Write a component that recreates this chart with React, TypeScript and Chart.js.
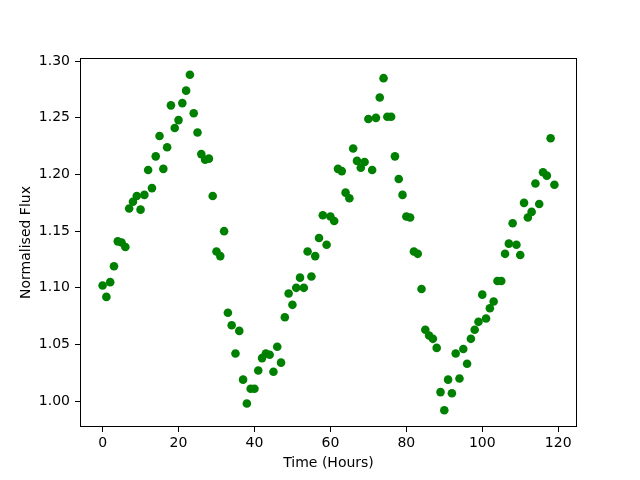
import React, { useEffect, useRef } from "react";
import { Chart, registerables } from "chart.js";

Chart.register(...registerables);

const hours: number[] = Array.from({ length: 120 }, (_, i) => i);

const flux: number[] = [
  1.102, 1.092, 1.105, 1.119, 1.141, 1.140, 1.136, 1.170, 1.176, 1.181,
  1.169, 1.182, 1.204, 1.188, 1.216, 1.234, 1.205, 1.224, 1.261, 1.241,
  1.248, 1.263, 1.274, 1.288, 1.254, 1.237, 1.218, 1.213, 1.214, 1.181,
  1.132, 1.128, 1.150, 1.078, 1.067, 1.042, 1.062, 1.019, 0.998, 1.011,
  1.011, 1.027, 1.038, 1.042, 1.041, 1.026, 1.048, 1.034, 1.074, 1.095,
  1.085, 1.100, 1.109, 1.100, 1.132, 1.110, 1.128, 1.144, 1.164, 1.138,
  1.163, 1.159, 1.205, 1.203, 1.184, 1.179, 1.223, 1.212, 1.206, 1.211,
  1.249, 1.204, 1.250, 1.268, 1.285, 1.251, 1.251, 1.216, 1.196, 1.182,
  1.163, 1.162, 1.132, 1.130, 1.099, 1.063, 1.058, 1.055, 1.047, 1.008,
  0.992, 1.019, 1.007, 1.042, 1.020, 1.046, 1.033, 1.055, 1.063, 1.070,
  1.094, 1.073, 1.082, 1.088, 1.106, 1.106, 1.130, 1.139, 1.157, 1.138,
  1.129, 1.175, 1.162, 1.167, 1.192, 1.174, 1.202, 1.199, 1.232, 1.191,
];

const xTicks: number[] = [0, 20, 40, 60, 80, 100, 120];
const yTicks: number[] = [1.0, 1.05, 1.1, 1.15, 1.2, 1.25, 1.3];
const xLabel = "Time (Hours)";
const yLabel = "Normalised Flux";

const FONT = "'DejaVu Sans', sans-serif";

const spinePlugin = {
  id: "spines",
  afterDraw(chart: any) {
    const { ctx, chartArea } = chart;
    ctx.save();
    ctx.strokeStyle = "#000";
    ctx.lineWidth = 1;
    const l = Math.round(chartArea.left) + 0.5;
    const t = Math.round(chartArea.top) + 0.5;
    const r = Math.round(chartArea.right) - 0.5;
    const b = Math.round(chartArea.bottom) - 0.5;
    ctx.strokeRect(l, t, r - l, b - t);
    ctx.restore();
  },
};

export default function App() {
  const ref = useRef<HTMLCanvasElement | null>(null);

  useEffect(() => {
    if (!ref.current) return;
    const points = hours.map((h, i) => ({ x: h, y: flux[i] }));
    const xmin = Math.min(...hours);
    const xmax = Math.max(...hours);
    const ymin = Math.min(...flux);
    const ymax = Math.max(...flux);
    const xm = (xmax - xmin) * 0.05;
    const ym = (ymax - ymin) * 0.05;

    const chart = new Chart(ref.current, {
      type: "scatter",
      data: {
        datasets: [
          {
            data: points,
            backgroundColor: "#008000",
            borderWidth: 0,
            pointRadius: 4.3,
            pointHoverRadius: 4.3,
          },
        ],
      },
      options: {
        animation: false,
        responsive: false,
        devicePixelRatio: 1,
        events: [],
        layout: { padding: { left: 0, top: 58, right: 63, bottom: 0 } },
        plugins: {
          legend: { display: false },
          tooltip: { enabled: false },
        },
        scales: {
          x: {
            type: "linear",
            min: xmin - xm,
            max: xmax + xm,
            afterBuildTicks: (scale: any) => {
              scale.ticks = xTicks.map((v) => ({ value: v }));
            },
            afterFit: (scale: any) => {
              scale.height = 53;
            },
            grid: {
              display: true,
              drawOnChartArea: false,
              drawTicks: true,
              tickLength: 5,
              color: "#000",
              lineWidth: 1,
            },
            border: { display: false },
            ticks: {
              color: "#000",
              padding: 3,
              maxRotation: 0,
              font: { family: FONT, size: 14 },
              callback: (v: any) => String(v),
            },
            title: {
              display: true,
              text: xLabel,
              color: "#000",
              font: { family: FONT, size: 14 },
              padding: { top: 0, bottom: 8.6 },
            },
          },
          y: {
            type: "linear",
            min: ymin - ym,
            max: ymax + ym,
            afterBuildTicks: (scale: any) => {
              scale.ticks = yTicks.map((v) => ({ value: v }));
            },
            afterFit: (scale: any) => {
              scale.width = 80;
            },
            grid: {
              display: true,
              drawOnChartArea: false,
              drawTicks: true,
              tickLength: 5,
              color: "#000",
              lineWidth: 1,
            },
            border: { display: false },
            ticks: {
              color: "#000",
              padding: 5,
              font: { family: FONT, size: 14 },
              callback: (v: any) => Number(v).toFixed(2),
            },
            title: {
              display: true,
              text: yLabel,
              color: "#000",
              font: { family: FONT, size: 14 },
              padding: { top: 17.6, bottom: 0 },
            },
          },
        },
      },
      plugins: [spinePlugin],
    });
    return () => chart.destroy();
  }, []);

  return (
    <div style={{ position: "fixed", left: 0, top: 0, width: 640, height: 480, background: "#fff" }}>
      <canvas ref={ref} width={640} height={480} style={{ display: "block" }} />
    </div>
  );
}
